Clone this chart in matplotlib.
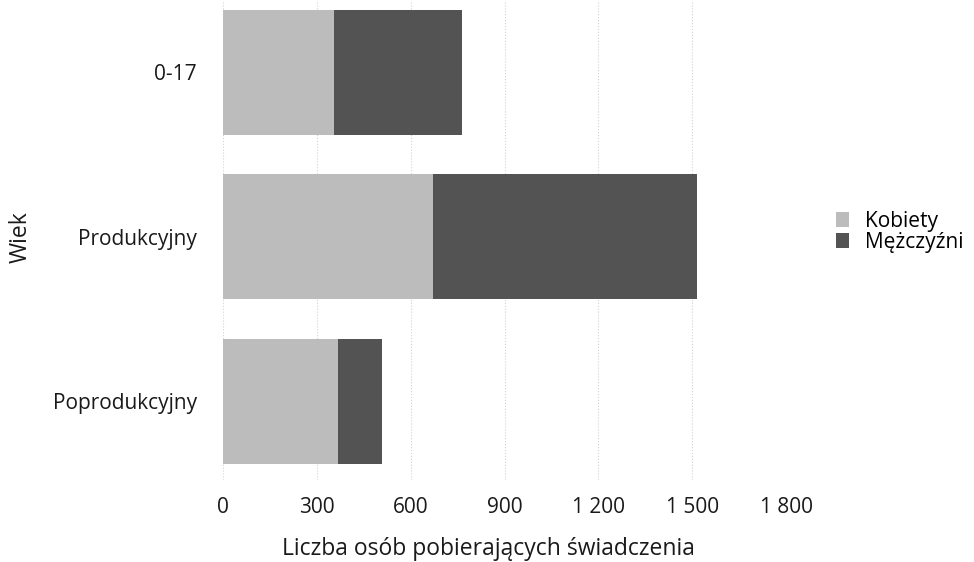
import numpy as np
import matplotlib.pyplot as plt

plt.rcParams['font.family'] = ['Open Sans', 'DejaVu Sans']

kategorie = ['0-17', 'Produkcyjny', 'Poprodukcyjny']
kobiety = [354, 672, 367]
mezczyzni = [411, 842, 141]
ticks = [0, 300, 600, 900, 1200, 1500, 1800]
tick_labels = ['0', '300', '600', '900', '1 200', '1 500', '1 800']

fig = plt.figure(figsize=(9.74, 5.62), dpi=100)
ax = fig.add_axes([0.229, 1 - 480 / 562, 0.578, 480 / 562])

y = np.arange(len(kategorie))
ax.barh(y, kobiety, height=0.76, color='#bcbcbc', label='Kobiety', zorder=2)
ax.barh(y, mezczyzni, left=kobiety, height=0.76, color='#535353',
        label='Mężczyźni', zorder=2)

ax.set_xlim(0, 1800)
ax.set_ylim(2.48, -0.44)
ax.set_yticks(y)
ax.set_yticklabels(kategorie, fontsize=15, color='#1a1a1a')
ax.set_xticks(ticks)
ax.set_xticklabels(tick_labels, fontsize=15, color='#1a1a1a')
ax.tick_params(axis='both', length=0)
ax.tick_params(axis='y', pad=19)
ax.tick_params(axis='x', pad=12)

ax.grid(axis='x', color='#d2d2d2', linestyle=':', linewidth=0.8, zorder=0)
for s in ax.spines.values():
    s.set_visible(False)

ax.set_xlabel('Liczba osób pobierających świadczenia', fontsize=16.5,
              color='#1a1a1a')
ax.xaxis.set_label_coords(0.472, -0.118)
fig.text(21 / 974, 1 - 237 / 562, 'Wiek', rotation=90, fontsize=16.5,
         color='#1a1a1a', ha='center', va='center')

ax.legend(loc='upper left', bbox_to_anchor=(836 / 974, 1 - 211 / 562),
          bbox_transform=fig.transFigure, frameon=False, fontsize=15,
          handlelength=0.6, handleheight=0.75, handletextpad=0.8,
          labelspacing=0.0, borderaxespad=0, borderpad=0)

fig.savefig('out.png', dpi=100)
